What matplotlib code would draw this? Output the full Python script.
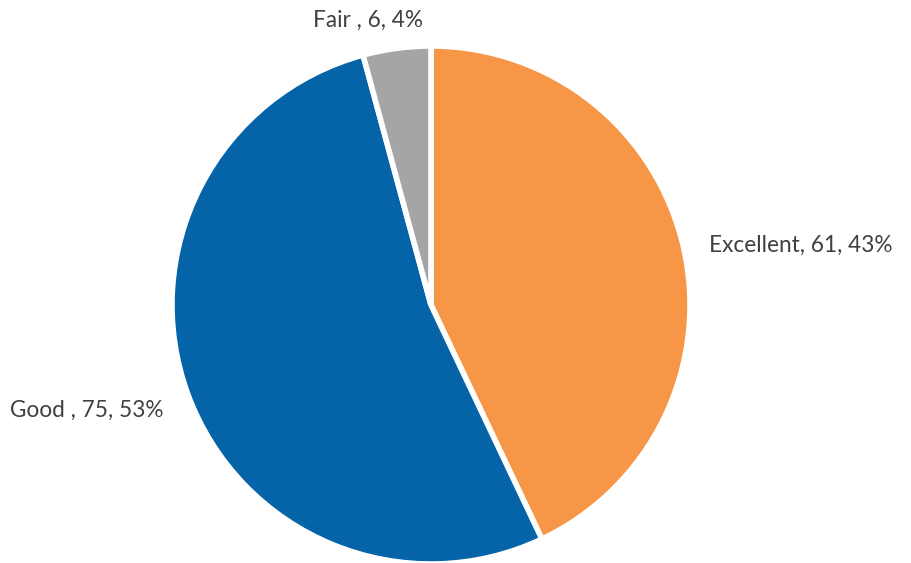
import matplotlib

matplotlib.use("Agg")
import matplotlib.pyplot as plt

# Rating breakdown
categories = ["Excellent", "Good ", "Fair "]
counts = [61, 75, 6]
percents = [43, 53, 4]
colors = ["#F79646", "#0563A8", "#A5A5A5"]

W, H = 911, 563
fig = plt.figure(figsize=(W / 100, H / 100), dpi=100)
ax = fig.add_axes([0, 0, 1, 1])

ax.pie(
    counts,
    colors=colors,
    startangle=90,
    counterclock=False,
    center=(431, H - 305),
    radius=259,
    frame=True,
    wedgeprops=dict(edgecolor="white", linewidth=4),
)
ax.set_xlim(0, W)
ax.set_ylim(0, H)
ax.set_aspect("equal")
ax.axis("off")

# label anchors in pixel coords (x center, y from top)
label_pos = [(801, 245), (87, 410), (368, 20)]
for cat, n, p, (lx, ly) in zip(categories, counts, percents, label_pos):
    ax.text(lx, H - ly, f"{cat}, {n}, {p}%", ha="center", va="center",
            fontsize=16.3, color="#404040", family=["Lato", "DejaVu Sans"])

fig.savefig("out.png", dpi=100, facecolor="white")
